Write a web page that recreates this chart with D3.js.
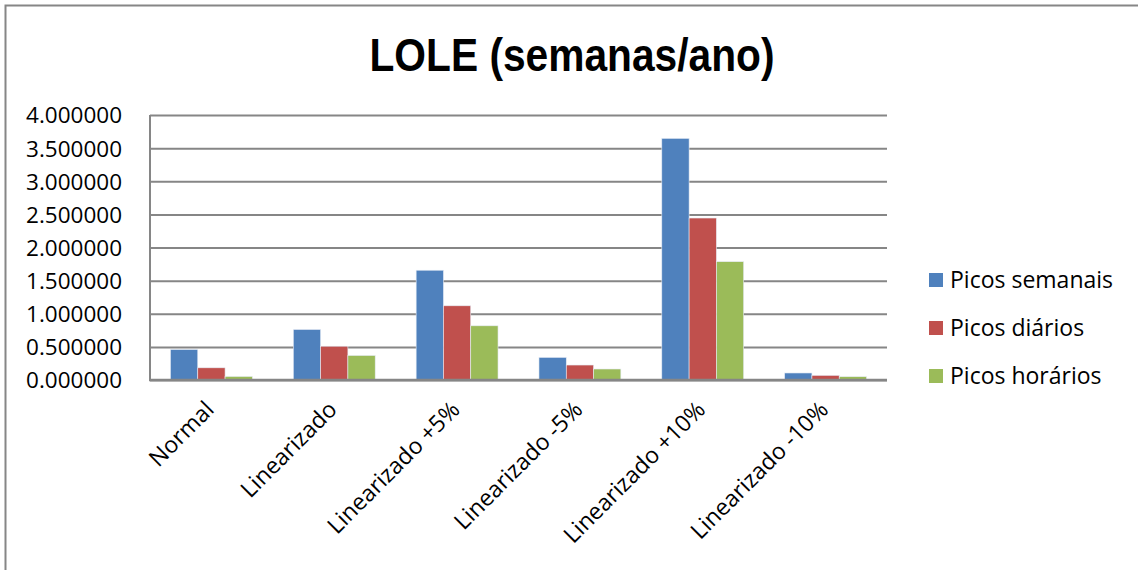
<!DOCTYPE html>
<html>
<head>
<meta charset="utf-8">
<script src="https://cdn.jsdelivr.net/npm/d3@7"></script>
<style>
  body { margin: 0; background: #fff; }
  svg text { font-family: "Open Sans", "Noto Sans", Arial, sans-serif; fill: #000; }
</style>
</head>
<body>
<svg id="chart" width="1138" height="570"></svg>
<script>
// data
const categories = ["Normal", "Linearizado", "Linearizado +5%", "Linearizado -5%", "Linearizado +10%", "Linearizado -10%"];
const seriesNames = ["Picos semanais", "Picos diários", "Picos horários"];
const semanais = [0.46, 0.762, 1.657, 0.341, 3.647, 0.106];
const diarios  = [0.184, 0.51, 1.12, 0.226, 2.445, 0.07];
const horarios = [0.053, 0.37, 0.818, 0.166, 1.786, 0.05];
const yTicks = [0, 0.5, 1, 1.5, 2, 2.5, 3, 3.5, 4];
const colors = ["#4F81BD", "#C0504D", "#9BBB59"];

const series = [semanais, diarios, horarios];

const svg = d3.select("#chart");
const grey = "#868686";

// outer chart border
svg.append("rect")
  .attr("x", 5.5).attr("y", 5.5)
  .attr("width", 1150).attr("height", 600)
  .attr("fill", "none")
  .attr("stroke", grey)
  .attr("stroke-width", 2);

// title
svg.append("text")
  .attr("x", 572).attr("y", 71)
  .attr("text-anchor", "middle")
  .attr("textLength", 405)
  .attr("lengthAdjust", "spacingAndGlyphs")
  .style("font-family", "'Liberation Sans Narrow', 'Liberation Sans', Arial, sans-serif")
  .style("font-size", "46px")
  .style("font-weight", "bold")
  .text("LOLE (semanas/ano)");

const plot = { left: 150, right: 887, top: 115, bottom: 380 };

const x0 = d3.scaleBand()
  .domain(categories)
  .range([plot.left, plot.right])
  .paddingInner(0)
  .paddingOuter(0);

// Excel gap width 150% -> 3 bars + 1.5 bar widths of gap per category
const barW = x0.bandwidth() / 4.5;
const x1 = d3.scaleBand()
  .domain(d3.range(3))
  .range([barW * 0.75, barW * 3.75]);

const y = d3.scaleLinear()
  .domain([0, 4])
  .range([plot.bottom, plot.top]);

// gridlines
const gAxisY = svg.append("g")
  .attr("transform", `translate(${plot.left},0)`)
  .call(d3.axisLeft(y)
    .tickValues(yTicks)
    .tickSize(-(plot.right - plot.left))
    .tickPadding(28)
    .tickFormat(d => d.toFixed(6)));
gAxisY.select(".domain").remove();
gAxisY.selectAll(".tick line")
  .attr("stroke", grey)
  .attr("stroke-width", 2);
gAxisY.selectAll(".tick text")
  .style("font-size", "22.5px")
  .attr("dy", "0.35em");

// bars
categories.forEach((cat, ci) => {
  series.forEach((vals, si) => {
    svg.append("rect")
      .attr("x", x0(cat) + x1(si))
      .attr("y", y(vals[ci]))
      .attr("width", x1.bandwidth())
      .attr("height", y(0) - y(vals[ci]))
      .attr("fill", colors[si])
      .attr("stroke", "#e6ecf5")
      .attr("stroke-width", 0.6);
  });
});

// axis lines
svg.append("line")
  .attr("x1", plot.left).attr("x2", plot.left)
  .attr("y1", plot.top).attr("y2", plot.bottom + 1)
  .attr("stroke", grey).attr("stroke-width", 2);
svg.append("line")
  .attr("x1", plot.left - 1).attr("x2", plot.right)
  .attr("y1", plot.bottom).attr("y2", plot.bottom)
  .attr("stroke", grey).attr("stroke-width", 2.5);

// category labels, rotated
svg.append("g")
  .selectAll("text")
  .data(categories)
  .join("text")
  .attr("transform", d => `translate(${x0(d) + x0.bandwidth() / 2 + 4},${plot.bottom + 31}) rotate(-45)`)
  .attr("text-anchor", "end")
  .style("font-size", "23px")
  .text(d => d);

// legend
const legend = svg.append("g")
  .attr("transform", "translate(929,273)");
seriesNames.forEach((name, i) => {
  const row = legend.append("g").attr("transform", `translate(0,${i * 48})`);
  row.append("rect")
    .attr("width", 14).attr("height", 14)
    .attr("fill", colors[i]);
  row.append("text")
    .attr("x", 21).attr("y", 7)
    .attr("dy", "0.35em")
    .style("font-size", "23px")
    .text(name);
});
</script>
</body>
</html>
